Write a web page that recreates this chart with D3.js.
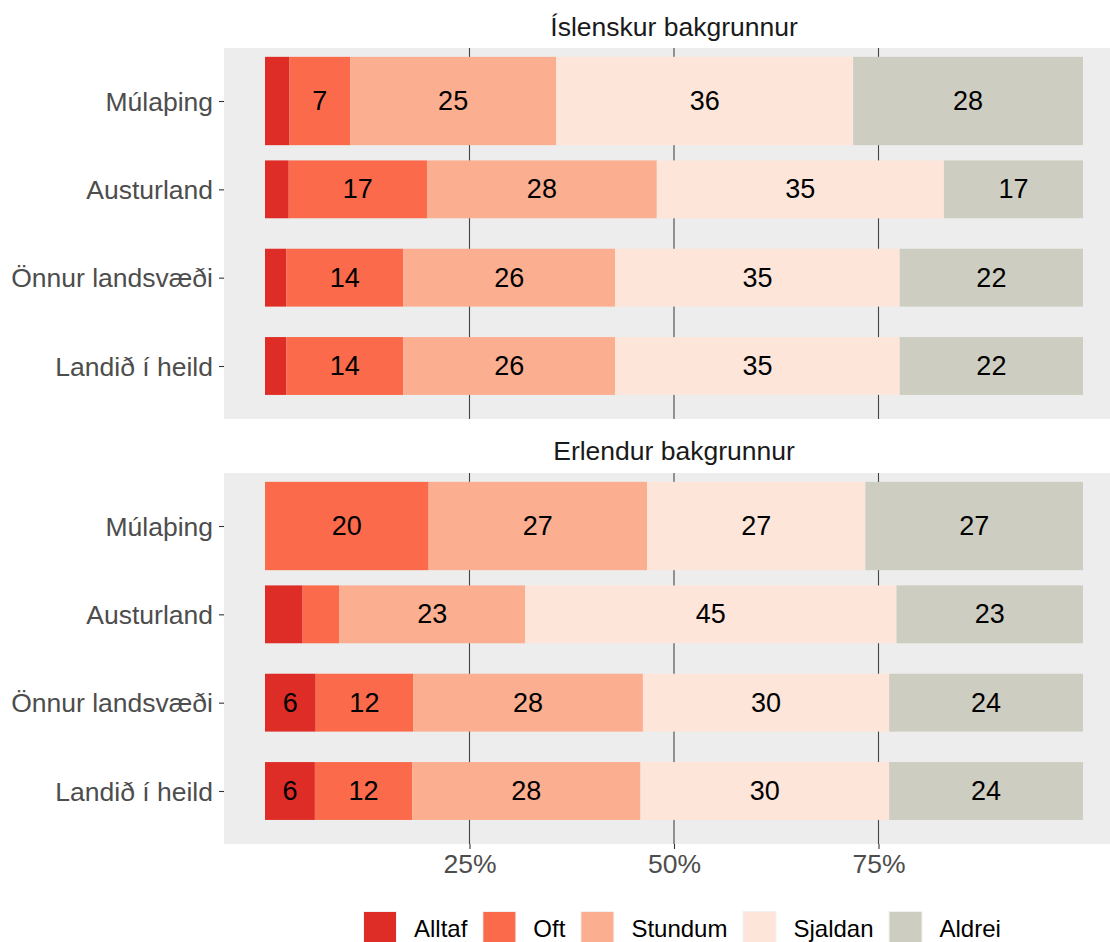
<!DOCTYPE html>
<html>
<head>
<meta charset="utf-8">
<script src="https://cdn.jsdelivr.net/npm/d3@7"></script>
<style>
  body { margin: 0; background: #fff; }
  svg { display: block; font-family: "Liberation Sans", Arial, sans-serif; }
</style>
</head>
<body>
<svg id="chart"></svg>
<script>
var w = 1110;
var h = 942;

var facets = ["Íslenskur bakgrunnur", "Erlendur bakgrunnur"];
var regions = ["Múlaþing", "Austurland", "Önnur landsvæði", "Landið í heild"];
var answers = ["Alltaf", "Oft", "Stundum", "Sjaldan", "Aldrei"];
var colors = ["#de2d26", "#fb6a4a", "#fcae91", "#fee5d9", "#cdcdc1"];

// percent per region, in answer order
var islenskur = [
  [3.0, 7.4, 25.2, 36.3, 28.1],
  [2.9, 16.9, 28.1, 35.1, 17.0],
  [2.6, 14.3, 25.9, 34.8, 22.4],
  [2.6, 14.3, 25.9, 34.8, 22.4]
];
var erlendur = [
  [0, 20.0, 26.7, 26.7, 26.6],
  [4.6, 4.5, 22.7, 45.4, 22.8],
  [6.2, 11.9, 28.1, 30.1, 23.7],
  [6.1, 11.9, 27.9, 30.4, 23.7]
];
var xTicks = [0.25, 0.5, 0.75];

var facetData = [islenskur, erlendur];

var svg = d3.select('#chart').attr('width', w).attr('height', h);

var panelLeft = 224, panelRight = 1124;
var panels = [
  {top: 48, bottom: 419, stripY: 27},
  {top: 473, bottom: 844, stripY: 451}
];

var x = d3.scaleLinear().domain([0, 1]).range([265, 1083]);
var color = d3.scaleOrdinal().domain(answers).range(colors);
var fmt = d3.format('.0%');

function barFactor(r) {
  return r === "Múlaþing" ? 1.0 : 0.655;
}

var stack = d3.stack().keys(answers);

facets.forEach(function (f, fi) {
  var p = panels[fi];
  var g = svg.append('g');

  g.append('rect')
    .attr('x', panelLeft).attr('y', p.top)
    .attr('width', panelRight - panelLeft).attr('height', p.bottom - p.top)
    .attr('fill', '#ededed');

  // strip title
  g.append('text')
    .attr('x', (panelLeft + panelRight) / 2)
    .attr('y', p.stripY)
    .attr('text-anchor', 'middle')
    .attr('dominant-baseline', 'central')
    .attr('font-size', '26.5px')
    .attr('fill', '#1a1a1a')
    .text(f);

  // grid lines
  g.selectAll('line.grid')
    .data(xTicks)
    .enter()
    .append('line')
    .attr('x1', function (d) { return x(d); })
    .attr('x2', function (d) { return x(d); })
    .attr('y1', p.top).attr('y2', p.bottom)
    .attr('stroke', '#444').attr('stroke-width', 1.1);

  var y = d3.scalePoint().domain(regions).range([p.top, p.bottom]).padding(0.6);
  var step = y.step();

  var rows = regions.map(function (r, i) {
    var o = {region: r};
    answers.forEach(function (a, j) { o[a] = facetData[fi][i][j] / 100; });
    return o;
  });
  var series = stack(rows);

  var layers = g.selectAll('g.layer')
    .data(series)
    .enter()
    .append('g')
    .attr('fill', function (d) { return color(d.key); });

  layers.selectAll('rect')
    .data(function (d) { return d; })
    .enter()
    .append('rect')
    .attr('x', function (d) { return x(d[0]); })
    .attr('width', function (d) { return x(d[1]) - x(d[0]); })
    .attr('y', function (d) { return y(d.data.region) - step * barFactor(d.data.region) / 2; })
    .attr('height', function (d) { return step * barFactor(d.data.region); });

  // value labels
  layers.selectAll('text')
    .data(function (d) { return d.filter(function (s) { return (s[1] - s[0]) >= 0.05; }); })
    .enter()
    .append('text')
    .attr('x', function (d) { return x((d[0] + d[1]) / 2); })
    .attr('y', function (d) { return y(d.data.region); })
    .attr('text-anchor', 'middle')
    .attr('dominant-baseline', 'central')
    .attr('font-size', '27px')
    .attr('fill', '#000')
    .text(function (d) { return Math.round((d[1] - d[0]) * 100); });

  // y axis
  var yAxis = g.append('g')
    .attr('transform', 'translate(' + panelLeft + ',0)')
    .call(d3.axisLeft(y).tickSize(5).tickPadding(6));
  yAxis.select('.domain').remove();
  yAxis.selectAll('line').attr('stroke', '#333').attr('stroke-width', 1.1);
  yAxis.selectAll('text')
    .attr('font-size', '26.5px')
    .attr('fill', '#4d4d4d')
    .attr('font-family', '"Liberation Sans", Arial, sans-serif')
    .attr('dy', '0.35em');

  if (fi === 1) {
    var xAxis = g.append('g')
      .attr('transform', 'translate(0,' + p.bottom + ')')
      .call(d3.axisBottom(x).tickValues(xTicks).tickFormat(fmt).tickSize(5).tickPadding(5));
    xAxis.select('.domain').remove();
    xAxis.selectAll('line').attr('stroke', '#333').attr('stroke-width', 1.1);
    xAxis.selectAll('text')
      .attr('font-size', '26.5px')
      .attr('fill', '#4d4d4d')
      .attr('font-family', '"Liberation Sans", Arial, sans-serif');
  }
});

// legend
var legend = svg.append('g');
var lx = 363;
answers.forEach(function (a) {
  legend.append('rect')
    .attr('x', lx).attr('y', 911)
    .attr('width', 34).attr('height', 34)
    .attr('fill', '#f2f2f2');
  legend.append('rect')
    .attr('x', lx + 1).attr('y', 912)
    .attr('width', 32).attr('height', 32)
    .attr('fill', color(a));
  var t = legend.append('text')
    .attr('x', lx + 51)
    .attr('y', 928)
    .attr('dominant-baseline', 'central')
    .attr('font-size', '24px')
    .attr('fill', '#000')
    .text(a);
  lx = lx + 51 + t.node().getComputedTextLength() + 15;
});
</script>
</body>
</html>
